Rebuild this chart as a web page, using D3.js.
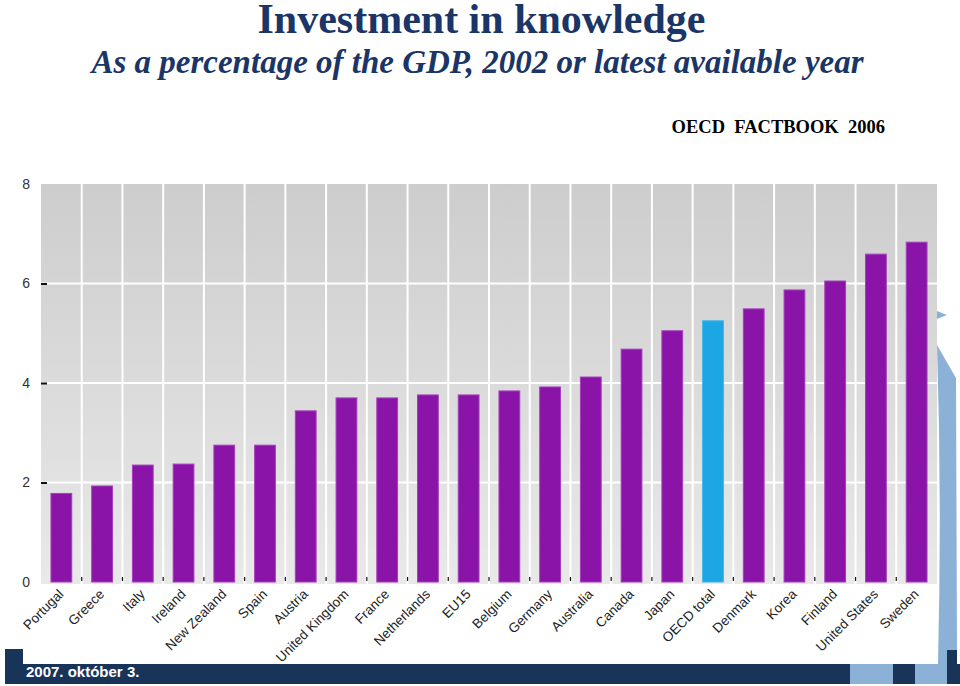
<!DOCTYPE html>
<html>
<head>
<meta charset="utf-8">
<script src="https://cdn.jsdelivr.net/npm/d3@7"></script>
<style>
html,body{margin:0;padding:0;background:#fff;}
svg{display:block;}
</style>
</head>
<body>
<svg id="chart" width="960" height="686"></svg>
<script>
const categories = ["Portugal","Greece","Italy","Ireland","New Zealand","Spain","Austria","United Kingdom","France","Netherlands","EU15","Belgium","Germany","Australia","Canada","Japan","OECD total","Denmark","Korea","Finland","United States","Sweden"];
const values = [1.78,1.93,2.35,2.37,2.75,2.75,3.44,3.70,3.70,3.76,3.76,3.84,3.92,4.12,4.68,5.05,5.25,5.49,5.87,6.05,6.59,6.83];
const highlighted = ["OECD total"];
const yTicks = [0,2,4,6,8];
const titleText = "Investment in knowledge";
const subtitleText = "As a percentage of the GDP, 2002 or latest available year";
const sourceText = "OECD  FACTBOOK  2006";
const footerText = "2007. október 3.";

const svg = d3.select("#chart");
const pLeft = 41, pRight = 937, pTop = 184, pBottom = 582;

const x = d3.scaleBand().domain(categories).range([pLeft, pRight]).padding(0);
const xBar = d3.scaleBand().domain(categories).range([pLeft, pRight]).paddingInner(0.49).paddingOuter(0.245);
const y = d3.scaleLinear().domain([0, 8]).range([pBottom, pTop]);

// background gradient
const defs = svg.append("defs");
const grad = defs.append("linearGradient").attr("id","bg").attr("x1",0).attr("y1",0).attr("x2",0).attr("y2",1);
grad.append("stop").attr("offset","0%").attr("stop-color","#cdcdcd");
grad.append("stop").attr("offset","55%").attr("stop-color","#dcdcdc");
grad.append("stop").attr("offset","100%").attr("stop-color","#e9e9e9");

svg.append("rect").attr("x", pLeft).attr("y", pTop).attr("width", pRight-pLeft).attr("height", pBottom-pTop+2).attr("fill","url(#bg)");

// grid lines
svg.append("g").selectAll("line").data(yTicks.filter(t => t > 0 && t < 8)).join("line")
  .attr("x1", pLeft).attr("x2", pRight).attr("y1", d => y(d)).attr("y2", d => y(d))
  .attr("stroke","#fff").attr("stroke-width",2);
svg.append("g").selectAll("line").data(categories.slice(1)).join("line")
  .attr("x1", d => x(d)).attr("x2", d => x(d)).attr("y1", pTop).attr("y2", pBottom+2)
  .attr("stroke","#fff").attr("stroke-width",2);

// small bottom ticks at boundaries
svg.append("g").selectAll("line").data(categories.slice(1)).join("line")
  .attr("x1", d => x(d)).attr("x2", d => x(d)).attr("y1", pBottom-5).attr("y2", pBottom-1)
  .attr("stroke","#111").attr("stroke-width",1.2);

// bars
svg.append("g").selectAll("rect").data(categories).join("rect")
  .attr("x", d => xBar(d)).attr("width", xBar.bandwidth())
  .attr("y", (d,i) => y(values[i])).attr("height", (d,i) => y(0) - y(values[i]))
  .attr("fill", d => highlighted.includes(d) ? "#1ca6e3" : "#8a14a7")
  .attr("stroke", d => highlighted.includes(d) ? "#3cb4ea" : "#a43ebd").attr("stroke-width",1);

// y axis
const yAxis = d3.axisLeft(y).tickValues(yTicks).tickSize(-6).tickPadding(11).tickFormat(d3.format("d"));
const ga = svg.append("g").attr("transform", `translate(${pLeft},0)`).call(yAxis);
ga.select(".domain").remove();
ga.selectAll(".tick line").attr("stroke","#111").attr("stroke-width",2).attr("opacity", d => (d===0||d===8)?0:1);
ga.selectAll(".tick text").attr("font-family","Liberation Sans, Arial, sans-serif").attr("font-size",14).attr("fill","#333");

// x labels
svg.append("g").selectAll("text").data(categories).join("text")
  .attr("transform", d => `translate(${x(d)+x.bandwidth()/2+3},${pBottom+13}) rotate(-45)`)
  .attr("text-anchor","end")
  .attr("font-family","Liberation Sans, Arial, sans-serif").attr("font-size",13.5).attr("fill","#222")
  .text(d => d);

// titles
svg.append("text").attr("x",481.5).attr("y",33).attr("text-anchor","middle")
  .attr("font-family","Liberation Serif, Times New Roman, serif").attr("font-weight","bold").attr("font-size",42)
  .attr("fill","#1a3566").text(titleText);
svg.append("text").attr("x",477.5).attr("y",73).attr("text-anchor","middle")
  .attr("font-family","Liberation Serif, Times New Roman, serif").attr("font-weight","bold").attr("font-style","italic").attr("font-size",33)
  .attr("fill","#1a3566").text(subtitleText);
svg.append("text").attr("x",885).attr("y",133).attr("text-anchor","end").style("white-space","pre")
  .attr("font-family","Liberation Serif, Times New Roman, serif").attr("font-weight","bold").attr("font-size",18.5)
  .attr("fill","#000").text(sourceText);

// decorations
const navy = "#193459", lblue = "#8cb1d6";
svg.append("rect").attr("x",5).attr("y",664).attr("width",955).attr("height",20).attr("fill",navy);
svg.append("rect").attr("x",5).attr("y",649).attr("width",18).attr("height",15).attr("fill",navy);
svg.append("rect").attr("x",850).attr("y",664).attr("width",43).attr("height",20).attr("fill",lblue);
svg.append("path").attr("d","M937,345 L956,378 L957,650 L947,650 L947,684 L915,684 L915,664 L938,664 Q942,500 937,345 Z").attr("fill",lblue);
svg.append("rect").attr("x",947).attr("y",650).attr("width",10).attr("height",34).attr("fill",navy);
svg.append("path").attr("d","M937,311 L947,315 L937,319 Z").attr("fill",lblue);

svg.append("text").attr("x",26).attr("y",677)
  .attr("font-family","Liberation Sans, Arial, sans-serif").attr("font-weight","bold").attr("font-size",15)
  .attr("fill","#fff").text(footerText);
</script>
</body>
</html>
